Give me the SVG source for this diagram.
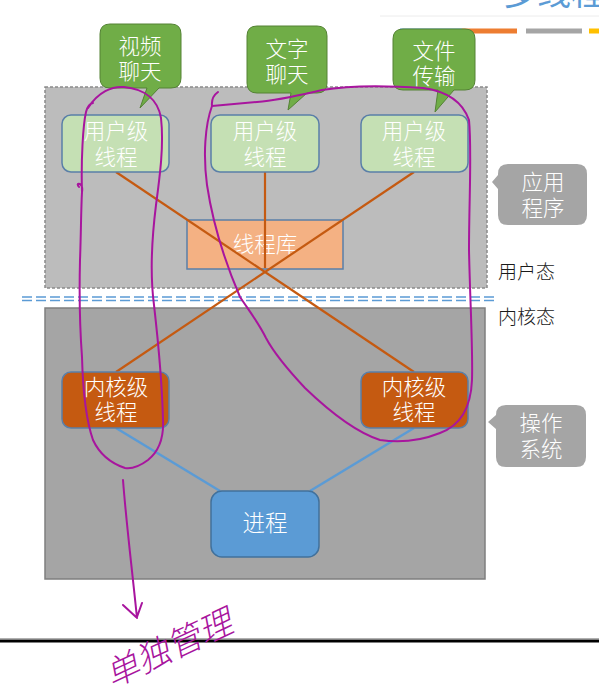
<svg xmlns="http://www.w3.org/2000/svg" width="599" height="697" viewBox="0 0 599 697">
<style>
text{font-family:"Liberation Sans","Noto Sans CJK SC",sans-serif;dominant-baseline:central;text-anchor:middle}
.w{fill:#ffffff;font-size:21.5px;font-weight:300}
.lbl{fill:#1a1a1a;font-size:19px;text-anchor:start;font-weight:300}
.ubox{fill:#c5e0b4;stroke:#5a7fa8;stroke-width:1.5}
.kbox{fill:#c55a11;stroke:#5a7fa8;stroke-width:1.5}
.gc{fill:#70ad47;stroke:#548235;stroke-width:1}
.grc{fill:#a5a5a5}
.ol{stroke:#c55a11;stroke-width:2.2;fill:none}
.bl{stroke:#5b9bd5;stroke-width:2.5;fill:none}
.ink{stroke:#a8159e;stroke-width:2;fill:none;stroke-linecap:round;stroke-linejoin:round}
</style>
<rect width="599" height="697" fill="#ffffff"/>
<!-- header fragments -->
<text x="503" y="5" style="fill:#5b9bd5;font-size:34px;text-anchor:start;dominant-baseline:alphabetic">多线程</text>
<line x1="380" y1="16" x2="599" y2="16" stroke="#ececec" stroke-width="1"/>
<rect x="400" y="28.5" width="62" height="5" fill="#5b9bd5"/>
<rect x="462" y="28.5" width="55" height="5" fill="#ed7d31"/>
<rect x="526" y="28.5" width="56" height="5" fill="#a5a5a5"/>
<rect x="589" y="28.5" width="10" height="5" fill="#ffc000"/>
<!-- regions -->
<g id="user-space">
<rect x="45" y="87" width="442" height="201" fill="#bcbcbc" stroke="#8a8a8a" stroke-width="1.5" stroke-dasharray="3,2"/>
</g>
<g id="divider">
<line x1="22" y1="297" x2="495" y2="297" stroke="#5b9bd5" stroke-width="1.3" stroke-dasharray="10,4"/>
<line x1="22" y1="300.5" x2="495" y2="300.5" stroke="#5b9bd5" stroke-width="1.3" stroke-dasharray="10,4"/>
</g>
<g id="kernel-space">
<rect x="45" y="308" width="440" height="271" fill="#a5a5a5" stroke="#7f7f7f" stroke-width="1.5"/>
</g>
<text class="lbl" x="498" y="272">用户态</text>
<text class="lbl" x="498" y="317">内核态</text>
<g id="lib">
<rect x="187" y="220" width="156" height="49" fill="#f4b183" stroke="#5a7fa8" stroke-width="1.5"/>
<text class="w" x="265" y="245">线程库</text>
</g>
<!-- connectors -->
<g id="connectors">
<line class="ol" x1="116" y1="172" x2="414" y2="372"/>
<line class="ol" x1="265" y1="172" x2="265" y2="268"/>
<line class="ol" x1="414" y1="172" x2="116" y2="372"/>
<line class="bl" x1="116" y1="428" x2="220" y2="491"/>
<line class="bl" x1="414" y1="428" x2="310" y2="491"/>
</g>
<g id="ut1"><rect class="ubox" x="62" y="115" width="107" height="57" rx="9"/><text class="w" x="116" y="132">用户级<tspan x="116" dy="26">线程</tspan></text></g>
<g id="ut2"><rect class="ubox" x="211" y="115" width="108" height="57" rx="9"/><text class="w" x="265" y="132">用户级<tspan x="265" dy="26">线程</tspan></text></g>
<g id="ut3"><rect class="ubox" x="361" y="115" width="107" height="57" rx="9"/><text class="w" x="414" y="132">用户级<tspan x="414" dy="26">线程</tspan></text></g>
<g id="kt1"><rect class="kbox" x="62" y="372" width="107" height="56" rx="9"/><text class="w" x="116" y="388">内核级<tspan x="116" dy="25">线程</tspan></text></g>
<g id="kt2"><rect class="kbox" x="361" y="372" width="107" height="56" rx="9"/><text class="w" x="414" y="388">内核级<tspan x="414" dy="25">线程</tspan></text></g>
<g id="process"><rect x="211" y="491" width="108" height="66" rx="11" fill="#5b9bd5" stroke="#41719c" stroke-width="1.5"/><text class="w" x="265" y="523" style="font-size:22.5px">进程</text></g>
<!-- green callouts -->
<g id="c-video"><path class="gc" d="M110,24 H171 Q181,24 181,34 V78 Q181,88 171,88 H159 L140,108 L147,88 H110 Q100,88 100,78 V34 Q100,24 110,24 Z"/><text class="w" x="140" y="47">视频<tspan x="140" dy="25">聊天</tspan></text></g>
<g id="c-text"><path class="gc" d="M257,26 H317 Q327,26 327,36 V83 Q327,93 317,93 H307 L288,110 L291,93 H257 Q247,93 247,83 V36 Q247,26 257,26 Z"/><text class="w" x="287" y="50">文字<tspan x="287" dy="25">聊天</tspan></text></g>
<g id="c-file"><path class="gc" d="M403,29 H465 Q475,29 475,39 V80 Q475,90 465,90 H454 L435,112 L438,90 H403 Q393,90 393,80 V39 Q393,29 403,29 Z"/><text class="w" x="434" y="52">文件<tspan x="434" dy="25">传输</tspan></text></g>
<!-- gray callouts -->
<g id="c-app"><path class="grc" d="M508,164 H577 Q587,164 587,174 V215 Q587,225 577,225 H508 Q498,225 498,215 V189 L492,182 L498,175 V174 Q498,164 508,164 Z"/><text class="w" x="543" y="183">应用<tspan x="543" dy="26">程序</tspan></text></g>
<g id="c-os"><path class="grc" d="M506,405 H576 Q586,405 586,415 V457 Q586,467 576,467 H506 Q496,467 496,457 V429 L488,422 L496,415 Q496,405 506,405 Z"/><text class="w" x="541" y="424">操作<tspan x="541" dy="26">系统</tspan></text></g>
<!-- bottom rule -->
<line x1="0" y1="638.5" x2="599" y2="638.5" stroke="#b0b0b0" stroke-width="1"/>
<line x1="0" y1="641" x2="599" y2="641" stroke="#000000" stroke-width="3"/>
<!-- handwritten annotations -->
<g id="annotations">
<path class="ink" d="M79,187 Q76,183 80,184 Q83,186 82,192 C81,160 83,125 86,112 Q88,104 93,103 M88,108 C98,92 112,86 124,87 C145,89 158,100 161,118 C164,145 160,175 156,205 C151,245 150,275 154,305 C158,340 162,380 163,420 C164,440 158,452 148,460 C140,466 132,469 125,468 C110,463 100,455 93,440 C86,420 83,395 82,357 C80,330 79,300 80,260 C81,235 81,210 82,192"/>
<path class="ink" d="M123,480 C126,520 131,560 137,618 M123,605 L136,617 M142,603 L137,617"/>
<path class="ink" d="M218,92 Q211,97 212,106 L257,102 C280,100 300,95 322,90 C345,86 380,85 423,88 C445,91 462,100 469,120 C472,150 469,200 469,250 C470,300 473,350 472,380 C471,405 462,425 440,433 C420,441 400,443 380,440 C355,432 330,412 305,388 C290,372 275,355 266,338 C258,322 250,312 240,297 C225,262 213,225 207,185 C203,155 205,125 212,106"/>
<text x="112" y="688" transform="rotate(-25 112 688)" style="fill:#a8159e;font-size:34px;text-anchor:start;dominant-baseline:alphabetic;font-weight:300;font-style:italic">单独管理</text>
</g>
</svg>
